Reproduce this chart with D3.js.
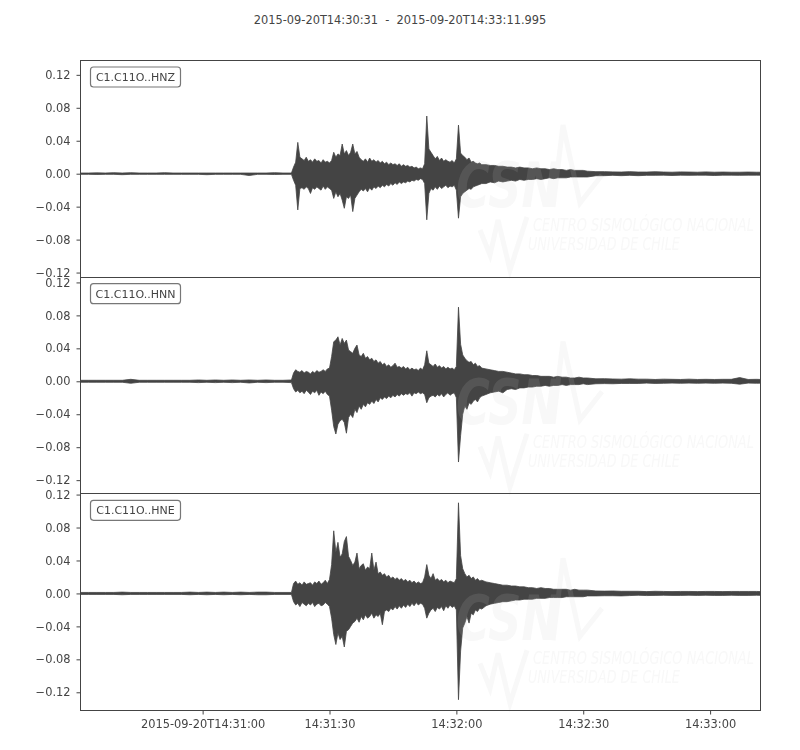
<!DOCTYPE html>
<html>
<head>
<meta charset="utf-8">
<script src="https://cdn.jsdelivr.net/npm/d3@7"></script>
<style>
	body { margin: 0; background: #fff; }
	text { font-family: "DejaVu Sans", sans-serif; fill: #444; }
</style>
</head>
<body>
<svg id="chart" width="800" height="750"></svg>
<script>
var title = "2015-09-20T14:30:31  -  2015-09-20T14:33:11.995";
var channels = ["C1.C11O..HNZ", "C1.C11O..HNN", "C1.C11O..HNE"];
var yLimits = [[-0.125, 0.138], [-0.136, 0.127], [-0.1415, 0.1215]];
var yTicks = [-0.12, -0.08, -0.04, 0, 0.04, 0.08, 0.12];
var xTicks = ["2015-09-20T14:31:00", "2015-09-20T14:31:30", "2015-09-20T14:32:00", "2015-09-20T14:32:30", "2015-09-20T14:33:00"];
var xTickLabels = ["2015-09-20T14:31:00", "14:31:30", "14:32:00", "14:32:30", "14:33:00"];

// seconds after 14:30:31 at which the envelope was read
var secs = [
	0,2,4,6,8,10,12,14,16,18,20,22,24,26,28,30,32,34,36,38,40,42,44,46,48,50,
	50.5,51,51.5,52,52.5,53,53.5,54,54.5,55,
	55.5,56,56.5,57,57.5,58,58.5,59,59.5,60,
	60.5,61,61.5,62,62.5,63,63.5,64,64.5,65,
	65.5,66,66.5,67,67.5,68,68.5,69,69.5,70,
	70.5,71,71.5,72,72.5,73,73.5,74,74.5,75,
	75.5,76,76.5,77,77.5,78,78.5,79,79.5,80,
	80.5,81,81.5,82,82.5,83,83.5,84,84.5,85,
	85.5,86,86.5,87,87.5,88,88.5,89,89.5,90,
	90.5,91,91.5,92,92.5,93,93.5,94,94.5,95,
	96,97,98,99,100,101,102,103,104,105,106,107,108,109,110,111,112,113,114,115,116,117,118,119,120,
	122,124,126,128,130,132,134,136,138,140,142,144,146,148,150,152,154,156,158,160,161
];

// envelope values, units of 1e-3
var hnzMax = [
	0.8,0.8,1,0.8,1.2,0.8,1.2,0.8,0.8,0.8,1.2,0.8,0.8,0.8,0.8,0.8,0.8,0.8,0.8,0.8,0.8,0.8,0.8,1.2,0.8,0.8,
	8,14,38,20,18,16,20,15,17,14,
	18,15,16,13,17,14,15,13,16,26,
	20,24,22,36,24,28,22,26,36,24,
	27,20,17,15,18,14,19,15,17,14,
	16,13,15,12,14,11,13,11,12,10,
	12,9,11,9,10,8,9,7,8,6,
	7,6,12,70,30,26,22,18,21,16,
	19,15,17,15,14,16,13,18,59,25,
	22,20,17,19,14,15,13,12,13,11,
	11,10,10,9,9,8,8,7,8,7,7,6,7,6,6,5,6,5,5,4,5,4,4,4,3,
	2.5,2.5,2.2,2,2.5,2,2,2.4,2,1.8,2.2,2,1.8,2.2,1.8,2,1.8,1.8,2,1.8,1.8
];
var hnzMin = [
	-0.8,-0.8,-1,-0.8,-0.8,-1.2,-0.8,-0.8,-0.8,-0.8,-0.8,-0.8,-0.8,-0.8,-0.8,-1.2,-0.8,-0.8,-0.8,-0.8,-2.2,-0.8,-0.8,-1,-0.8,-0.8,
	-8,-14,-44,-18,-17,-19,-16,-18,-24,-17,
	-19,-16,-18,-20,-15,-19,-16,-18,-20,-30,
	-22,-28,-24,-32,-42,-28,-30,-26,-46,-30,
	-26,-22,-19,-21,-18,-22,-17,-20,-16,-18,
	-15,-17,-14,-16,-13,-15,-12,-14,-11,-13,
	-10,-12,-10,-11,-9,-10,-8,-9,-7,-8,
	-6,-7,-12,-56,-24,-18,-20,-16,-19,-15,
	-18,-16,-14,-17,-15,-16,-14,-20,-54,-28,
	-24,-22,-20,-18,-19,-16,-15,-14,-13,-12,
	-12,-10,-11,-9,-10,-9,-8,-9,-7,-8,-7,-7,-6,-7,-6,-5,-6,-5,-5,-5,-4,-4,-4,-4,-4,
	-2.5,-2.4,-2,-2.4,-2,-2.4,-2,-2,-1.8,-2.2,-1.8,-2,-1.8,-1.8,-2.2,-1.8,-1.8,-2,-1.8,-1.8,-1.8
];
var hnnMax = [
	1.2,1.2,1.2,1.2,1.2,1.2,2.4,1.2,1.2,1.2,1.2,1.2,1.2,1.2,1.6,1.2,1.6,1.2,1.6,1.2,1.6,1.2,1.6,1.2,1.2,1.6,
	10,14,12,11,13,10,12,11,9,12,
	10,13,11,12,14,12,15,16,30,48,
	50,54,44,52,46,50,38,36,34,40,
	44,32,30,34,28,30,26,28,24,26,
	22,24,20,22,18,20,17,19,22,17,
	18,16,18,15,17,14,16,14,15,13,
	16,14,20,37,22,20,18,21,17,19,
	16,18,15,17,15,16,14,18,90,45,
	32,28,25,23,24,20,22,18,19,16,
	15,14,13,12,12,11,10,9,9,8,8,7,7,6,6,6,5,6,5,5,4,4,5,4,4,
	3,3.2,2.8,2.6,3,2.6,2.6,2.2,2.6,2.4,2.2,2.6,2.2,2.4,2.2,2.4,2.4,4.5,2.2,2.4,2.2
];
var hnnMin = [
	-1.2,-1.2,-1.2,-1.2,-1.2,-1.2,-2.4,-1.2,-1.2,-1.2,-1.2,-1.2,-1.2,-1.2,-1.6,-1.2,-1.6,-1.2,-1.6,-1.2,-2,-1.2,-1.6,-1.2,-1.2,-1.6,
	-9,-13,-11,-14,-12,-15,-11,-13,-16,-12,
	-14,-11,-17,-13,-15,-12,-16,-18,-35,-55,
	-64,-52,-48,-46,-50,-63,-44,-40,-44,-34,
	-38,-30,-34,-28,-31,-26,-28,-24,-27,-22,
	-25,-20,-22,-19,-21,-18,-20,-17,-19,-16,
	-18,-15,-17,-15,-16,-14,-18,-14,-15,-13,
	-15,-14,-16,-26,-20,-18,-17,-19,-16,-18,
	-15,-19,-16,-14,-17,-15,-14,-20,-98,-66,
	-40,-30,-34,-26,-28,-24,-22,-25,-20,-18,
	-16,-14,-13,-12,-14,-10,-9,-10,-8,-8,-7,-7,-6,-6,-5,-6,-5,-5,-4,-5,-4,-4,-4,-3,-4,
	-3,-2.8,-3,-2.6,-2.6,-2.6,-2.2,-2.6,-2.4,-2.2,-2.4,-2.2,-2.4,-2.2,-2.4,-2.2,-2.4,-3.5,-2.2,-2.4,-2.2
];
var hneMax = [
	1.2,1.2,1.2,1.2,1.2,1.6,1.2,1.2,1.2,1.2,1.2,1.2,1.2,1.6,1.2,1.6,1.2,1.6,1.2,1.6,1.2,1.6,1.6,1.2,1.2,1.2,
	12,15,11,13,10,14,11,12,13,10,
	14,12,15,11,13,16,12,17,35,76,
	50,62,44,48,63,69,45,40,34,38,
	49,30,34,36,28,32,30,49,28,38,
	24,26,22,24,20,22,18,20,17,19,
	16,18,15,17,14,16,13,15,12,14,
	12,13,20,35,22,18,24,16,18,15,
	17,14,16,13,15,14,13,18,110,46,
	30,24,20,22,18,20,16,18,15,16,
	14,13,12,11,10,10,9,9,8,8,7,7,6,7,6,6,5,5,5,5,4,5,4,4,4,
	3,2.8,3,2.6,2.6,2.6,2.2,2.6,2.4,2.2,2.4,2.4,2.2,2.4,2.4,2.2,2.4,2.4,2.4,2.4,2.2
];
var hneMin = [
	-1.2,-1.2,-1.2,-1.2,-1.2,-1.6,-1.2,-1.2,-1.2,-1.2,-1.2,-1.2,-1.2,-1.6,-1.2,-1.6,-1.2,-1.6,-1.2,-1.6,-1.2,-1.6,-1.6,-1.2,-1.2,-1.2,
	-10,-14,-12,-16,-11,-13,-15,-12,-14,-11,
	-16,-13,-12,-15,-14,-11,-13,-16,-30,-50,
	-62,-48,-56,-52,-65,-46,-44,-40,-36,-34,
	-30,-35,-28,-32,-26,-30,-28,-24,-30,-26,
	-28,-24,-38,-22,-20,-22,-18,-20,-16,-19,
	-15,-18,-14,-17,-13,-16,-12,-15,-11,-14,
	-12,-13,-18,-30,-24,-20,-18,-22,-17,-19,
	-16,-21,-15,-18,-14,-17,-15,-20,-129,-70,
	-42,-36,-28,-36,-24,-26,-20,-22,-18,-19,
	-15,-13,-12,-11,-10,-10,-9,-8,-8,-7,-7,-7,-6,-6,-6,-5,-5,-5,-5,-4,-4,-4,-4,-4,-3,
	-3,-2.8,-2.8,-3,-2.6,-2.2,-2.6,-2.4,-2.2,-2.4,-2.4,-2.2,-2.4,-2.2,-2.4,-2.4,-2.2,-2.4,-2.4,-2.2,-2.4
];
var traceMax = [hnzMax, hnnMax, hneMax];
var traceMin = [hnzMin, hnnMin, hneMin];

var ink = "#444";
var left = 80, right = 760, top0 = 60, panelH = 650 / 3;
var fontSize = "11.4px";

var svg = d3.select("#chart");
var parseTime = d3.utcParse("%Y-%m-%dT%H:%M:%S");
var start = parseTime("2015-09-20T14:30:31");

var x = d3.scaleUtc()
	.domain([start, new Date(+start + 160.8 * 1000)])
	.range([left, right]);

svg.append("text")
	.attr("x", 400)
	.attr("y", 24)
	.attr("text-anchor", "middle")
	.style("font-size", fontSize)
	.style("white-space", "pre")
	.text(title);

svg.append("defs").append("clipPath")
	.attr("id", "plotclip")
	.append("rect")
	.attr("x", left).attr("y", top0)
	.attr("width", right - left).attr("height", 650);

// squeeze a text horizontally to a given width
function fitWidth(sel, x0, y0, w) {
	var natural = sel.node().getComputedTextLength();
	sel.attr("transform", "translate(" + x0 + "," + y0 + ") scale(" + (w / natural) + ",1)");
}

channels.forEach(function (name, i) {
	var top = top0 + i * panelH;
	var bottom = top + panelH;
	var y = d3.scaleLinear().domain(yLimits[i]).range([bottom, top]);

	var rows = secs.map(function (s, k) {
		return { t: new Date(+start + s * 1000), hi: traceMax[i][k] / 1000, lo: traceMin[i][k] / 1000 };
	});

	var area = d3.area()
		.x(d => x(d.t))
		.y0(d => y(d.lo))
		.y1(d => y(d.hi));

	var g = svg.append("g").attr("class", "panel");

	g.append("path")
		.datum(rows)
		.attr("clip-path", "url(#plotclip)")
		.attr("d", area)
		.style("fill", ink)
		.style("stroke", ink)
		.style("stroke-width", 0.8)
		.style("stroke-linejoin", "miter");

	// faint CSN watermark, drawn in panel-1 coordinates and shifted down
	var wm = g.append("g")
		.attr("transform", "translate(0," + (top - top0) + ")")
		.style("opacity", 0.13);
	var csn = wm.append("text")
		.style("font-size", "62px")
		.style("font-style", "italic")
		.style("font-weight", "bold")
		.style("fill", "#c8c8c8")
		.text("CSN");
	fitWidth(csn, 456, 207, 104);
	wm.append("path")
		.attr("d", "M553,207L563,125L580,203L602,175M480,230L490,255L498,220L510,270L527,217")
		.style("fill", "none")
		.style("stroke", "#c8c8c8")
		.style("stroke-width", 5);
	var line1 = wm.append("text")
		.style("font-size", "17px")
		.style("font-style", "italic")
		.style("fill", "#c8c8c8")
		.text("CENTRO SISMOLÓGICO NACIONAL");
	fitWidth(line1, 533, 231, 221);
	var line2 = wm.append("text")
		.style("font-size", "17px")
		.style("font-style", "italic")
		.style("fill", "#c8c8c8")
		.text("UNIVERSIDAD DE CHILE");
	fitWidth(line2, 528, 250, 152);

	// frame
	g.append("rect")
		.attr("x", left + 0.5).attr("y", Math.round(top) + 0.5)
		.attr("width", right - left).attr("height", Math.round(bottom) - Math.round(top))
		.style("fill", "none")
		.style("stroke", ink)
		.style("stroke-width", 1);

	var yAxis = g.append("g")
		.attr("transform", "translate(" + (left + 0.5) + ",0)")
		.call(d3.axisLeft(y).tickValues(yTicks).tickSize(4).tickPadding(6).tickFormat(d3.format(".2f")));
	yAxis.select(".domain").remove();
	yAxis.selectAll("line").style("stroke", ink);
	yAxis.selectAll("text").style("font-size", fontSize).style("fill", ink).style("font-family", "DejaVu Sans, sans-serif");

	// station label
	g.append("rect")
		.attr("x", 90.5).attr("y", top + 7)
		.attr("width", 90).attr("height", 20)
		.attr("rx", 3)
		.style("fill", "#fff")
		.style("stroke", "#777")
		.style("stroke-width", 1.2);
	g.append("text")
		.attr("x", 135.5).attr("y", top + 21)
		.attr("text-anchor", "middle")
		.style("font-size", "11px")
		.text(name);

	if (i === channels.length - 1) {
		var xAxis = g.append("g")
			.attr("transform", "translate(0," + (Math.round(bottom) + 0.5) + ")")
			.call(d3.axisBottom(x)
				.tickValues(xTicks.map(parseTime))
				.tickSize(4).tickPadding(5)
				.tickFormat((d, k) => xTickLabels[k]));
		xAxis.select(".domain").remove();
		xAxis.selectAll("line").style("stroke", ink);
		xAxis.selectAll("text").style("font-size", fontSize).style("fill", ink).style("font-family", "DejaVu Sans, sans-serif");
	}
});
</script>
</body>
</html>
